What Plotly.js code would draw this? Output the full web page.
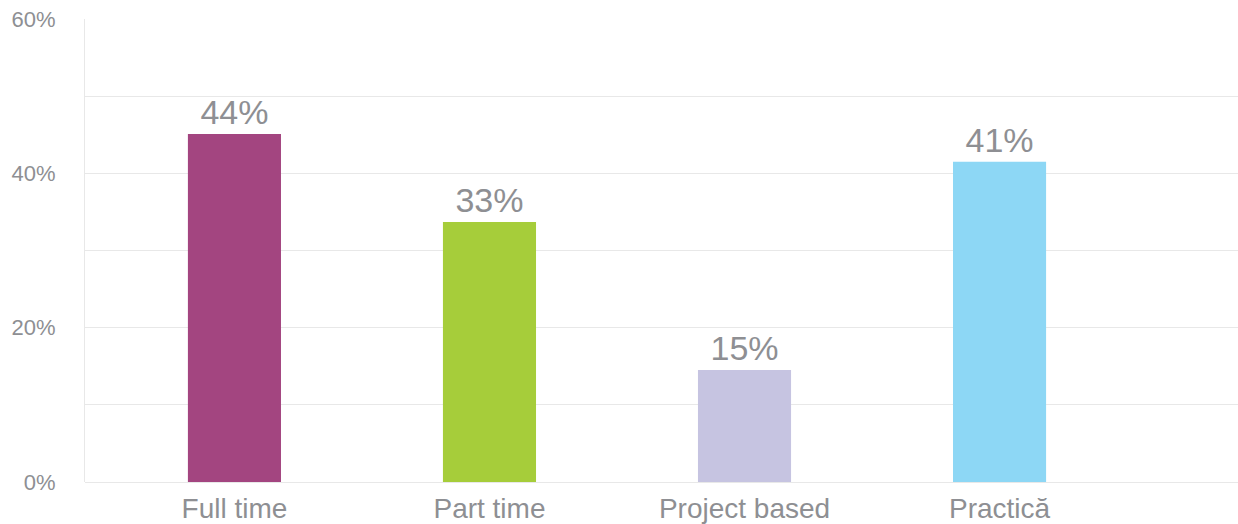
<!DOCTYPE html>
<html>
<head>
<meta charset="utf-8">
<script src="https://cdn.plot.ly/plotly-3.0.1.min.js"></script>
<style>html,body{margin:0;padding:0;background:#fff}#chart{width:1238px;height:524px}</style>
</head>
<body>
<div id="chart"></div>
<script>
const categories = ["Full time", "Part time", "Project based", "Practică"];
const values = [45.1, 33.7, 14.5, 41.5];
const labels = ["44%", "33%", "15%", "41%"];
const colors = ["#a34580", "#a6cd3a", "#c6c4e1", "#8dd7f5"];
const yTickVals = [0, 20, 40, 60];
const yTickText = ["0%", "20%", "40%", "60%"];

const gray = "#8e8f93";
const grid = "#e8e8e8";

Plotly.newPlot("chart", [{
  type: "bar",
  x: categories,
  y: values,
  text: labels,
  textposition: "outside",
  cliponaxis: false,
  textfont: {family: "Liberation Sans, Arial, sans-serif", size: 34, color: gray},
  marker: {color: colors},
  width: 0.365,
  hoverinfo: "none"
}], {
  width: 1238, height: 524,
  margin: {l: 85, r: 0, t: 19, b: 42},
  paper_bgcolor: "#fff", plot_bgcolor: "#fff",
  showlegend: false,
  xaxis: {
    type: "category",
    range: [-0.586, 3.935],
    showgrid: false, zeroline: false, showline: false,
    ticks: "",
    tickfont: {family: "Liberation Sans, Arial, sans-serif", size: 28, color: gray},
    ticklabelstandoff: 7
  },
  yaxis: {
    range: [0, 60],
    tickvals: yTickVals, ticktext: yTickText,
    showgrid: true, gridcolor: grid, gridwidth: 1,
    minor: {dtick: 10, showgrid: true, gridcolor: grid, gridwidth: 1},
    zeroline: true, zerolinecolor: grid, zerolinewidth: 1,
    showline: true, linecolor: grid, linewidth: 1,
    ticks: "",
    tickfont: {family: "Liberation Sans, Arial, sans-serif", size: 22, color: gray},
    ticklabelstandoff: 24
  }
}, {displayModeBar: false, staticPlot: true});
</script>
</body>
</html>
